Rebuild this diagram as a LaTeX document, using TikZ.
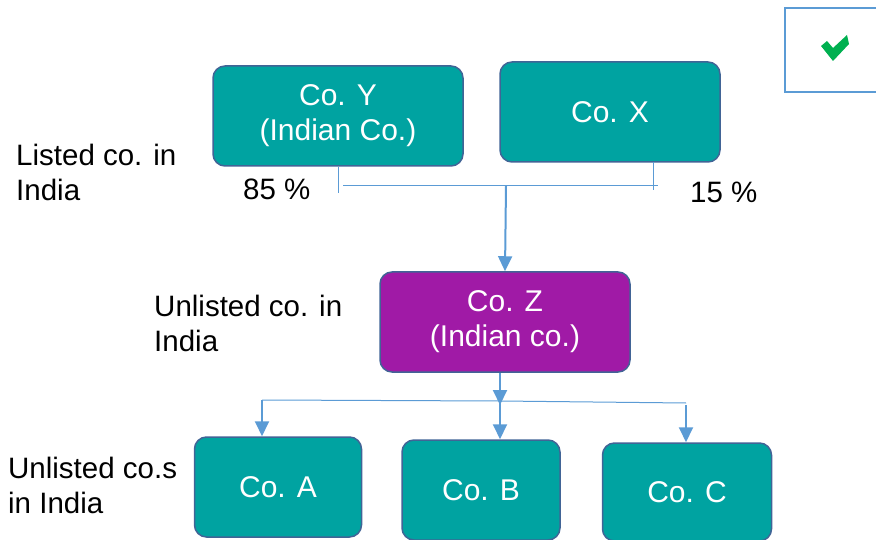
\documentclass[tikz,border=0pt]{standalone}
\usepackage{fontspec}
\setmainfont{Liberation Sans}
\usepackage{xcolor}
\usetikzlibrary{arrows.meta,positioning}

\definecolor{tealbox}{RGB}{0,163,161}
\definecolor{purplebox}{RGB}{160,26,166}
\definecolor{boxedge}{RGB}{65,100,150}
\definecolor{linkblue}{RGB}{91,155,213}
\definecolor{tickgreen}{RGB}{0,176,80}

\tikzset{
  cobox/.style={draw=boxedge,line width=1.5pt,rounded corners=12pt,fill=tealbox,
    text=white,align=center,font=\fontsize{30}{35}\selectfont,inner sep=0pt},
  lbl/.style={anchor=north west,inner sep=0pt,align=left,font=\fontsize{29.5}{35}\selectfont},
  link/.style={draw=linkblue,line width=1pt},
  linkarrow/.style={draw=linkblue,line width=2pt,-{Triangle[length=15pt,width=14pt]}}
}

\begin{document}
\begin{tikzpicture}[x=1pt,y=1pt,yscale=-1,xscale=1]
\useasboundingbox (0,0) rectangle (876,540);

% Boxes
\node[cobox,minimum width=250,minimum height=100] (coy) at (338,116) {Co. Y\\(Indian Co.)};
\node[cobox,minimum width=220,minimum height=100] (cox) at (610,112) {Co. X};
\node[cobox,fill=purplebox,minimum width=250,minimum height=100] (coz) at (505,322) {Co. Z\\(Indian co.)};
\node[cobox,minimum width=167,minimum height=100] (coa) at (278,487) {Co. A};
\node[cobox,minimum width=158,minimum height=100] (cob) at (481,490) {Co. B};
\node[cobox,minimum width=169,minimum height=98] (coc) at (687,492) {Co. C};

% Holding lines
\coordinate (ybar) at (338,193);
\coordinate (xtop) at (653,162);
\coordinate (xbar) at (653,190);
\coordinate (jl) at (343,186);
\coordinate (jr) at (658,186);
\coordinate (jm) at (506,186);
\draw[link] (coy.south) -- (ybar);
\draw[link] (xtop) -- (xbar);
\draw[link] (jl) -- (jr);
\draw[linkarrow] (jm) -- (coz.north);

% Subsidiary lines
\coordinate (sl) at (262,400);
\coordinate (sr) at (686,403);
\coordinate (sm) at (500,401);
\coordinate (cb) at (500,405);
\coordinate (cc) at (686,405);
\draw[link] (sl) -- (sm) -- (sr);
\draw[linkarrow] (coz.south -| sm) -- (cb);
\draw[linkarrow] (sm) -- (cob.north -| sm);
\draw[linkarrow] (sl) -- (coa.north -| sl);
\draw[linkarrow] (cc) -- (coc.north -| cc);

% Check box
\draw[linkblue,line width=2pt] (877,8) -- (785,8) -- (785,92) -- (877,92);
\fill[tickgreen] (821,46) -- (827,41) -- (833,48) -- (847,35) -- (849,44) -- (833,61) -- cycle;

% Text Node
\node[lbl] (listed) at (16,144) {Listed co. in\\India};
% Text Node
\node[lbl] (py) at (243,179) {85 \%};
% Text Node
\node[lbl] (px) at (690,182) {15 \%};
% Text Node
\node[lbl] (unlisted) at (154,295) {Unlisted co. in\\India};
% Text Node
\node[lbl] (unlisteds) at (8,457) {Unlisted co.s\\in India};

\end{tikzpicture}
\end{document}
